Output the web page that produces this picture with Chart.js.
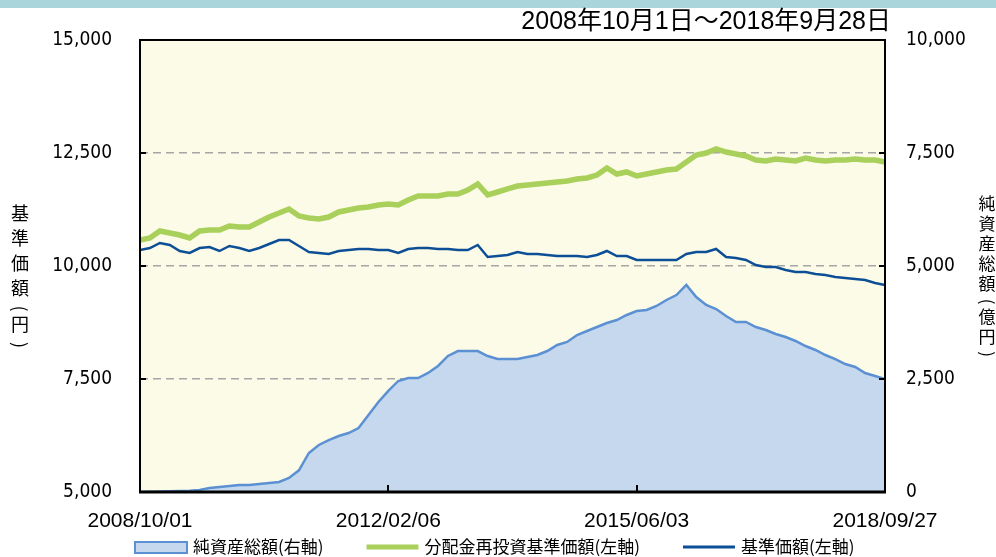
<!DOCTYPE html>
<html><head><meta charset="utf-8">
<script src="https://cdn.jsdelivr.net/npm/chart.js@4.4.0/dist/chart.umd.min.js"></script>
<style>html,body{margin:0;padding:0;background:#fff;overflow:hidden}#wrap{width:996px;height:557px;position:relative}</style>
</head><body><div id="wrap"><canvas id="c" width="996" height="557"></canvas></div>
<script>
// ---- data ----
const periodTitle = '2008年10月1日～2018年9月28日';
const xTickLabels = ['2008/10/01', '2012/02/06', '2015/06/03', '2018/09/27'];
const seriesNames = ['純資産総額(右軸)', '分配金再投資基準価額(左軸)', '基準価額(左軸)'];
const leftAxisTitle = ['基', '準', '価', '額', '(', '円', ')'];
const rightAxisTitle = ['純', '資', '産', '総', '額', '(', '億', '円', ')'];
const leftTicks = [5000, 7500, 10000, 12500, 15000];
const rightTicks = [0, 2500, 5000, 7500, 10000];

// 分配金再投資基準価額 (円, left axis)
const reinvestNav = [
  10575, 10620, 10774, 10730, 10686, 10620, 10774, 10797, 10797, 10885,
  10863, 10863, 10973, 11084, 11173, 11261, 11106, 11062, 11040, 11084,
  11195, 11239, 11283, 11305, 11350, 11372, 11350, 11460, 11549, 11549,
  11549, 11593, 11593, 11681, 11814, 11571, 11637, 11704, 11770, 11792,
  11814, 11836, 11858, 11881, 11925, 11947, 12013, 12168, 12035, 12080,
  11991, 12035, 12080, 12124, 12146, 12301, 12456, 12500, 12589, 12522,
  12478, 12434, 12345, 12323, 12367, 12345, 12323, 12389, 12345, 12323,
  12345, 12345, 12367, 12345, 12345, 12301
];
// 基準価額 (円, left axis)
const nav = [
  10354, 10398, 10509, 10465, 10332, 10288, 10398, 10420, 10332, 10443,
  10398, 10332, 10398, 10487, 10575, 10575, 10443, 10310, 10288, 10266,
  10332, 10354, 10376, 10376, 10354, 10354, 10288, 10376, 10398, 10398,
  10376, 10376, 10354, 10354, 10465, 10199, 10221, 10243, 10310, 10266,
  10266, 10243, 10221, 10221, 10221, 10199, 10243, 10332, 10221, 10221,
  10133, 10133, 10133, 10133, 10133, 10266, 10310, 10310, 10376, 10199,
  10177, 10133, 10022, 9978, 9978, 9912, 9867, 9867, 9823, 9801,
  9757, 9735, 9712, 9690, 9624, 9580
];
// 純資産総額 (億円, right axis)
const netAssets = [
  2, 5, 10, 15, 22, 30, 44, 88, 111, 133,
  155, 155, 177, 199, 221, 310, 480, 863, 1040, 1150,
  1239, 1305, 1416, 1704, 1991, 2235, 2456, 2522, 2522, 2633,
  2788, 3009, 3119, 3119, 3119, 3009, 2942, 2942, 2942, 2987,
  3031, 3119, 3252, 3319, 3473, 3562, 3650, 3739, 3805, 3916,
  4004, 4027, 4115, 4248, 4358, 4580, 4314, 4137, 4049, 3894,
  3761, 3761, 3650, 3584, 3496, 3429, 3341, 3230, 3142, 3031,
  2942, 2832, 2765, 2633, 2566, 2500
];

// ---- styles ----
const C_AREA_FILL = '#c5d8ee', C_AREA_LINE = '#5b90d2';
const C_GREEN = '#a8d05a', C_BLUE = '#0d4f96';
const C_PLOT_BG = '#fcfbe7', C_BAND = '#a9d5db';
const JP = '"Noto Sans CJK JP", sans-serif';
const NUM = '"DejaVu Sans Condensed", "DejaVu Sans", sans-serif';
const NARROW = '"Liberation Sans Narrow", "Liberation Sans", "Noto Sans CJK JP", sans-serif';

const lastIdx = reinvestNav.length - 1;
const xStep = lastIdx / (xTickLabels.length - 1);
const toXY = arr => arr.map((v, i) => ({ x: i, y: v }));
const fmt = v => Number(v).toLocaleString('en-US');
const isParen = ch => ch === '(' || ch === ')';

function drawVerticalTitle(ctx, chars, cx, startY, step, parenStep, fontPx) {
  ctx.font = fontPx + 'px ' + JP;
  ctx.textAlign = 'center'; ctx.textBaseline = 'middle';
  let y = startY;
  chars.forEach(ch => {
    if (isParen(ch)) {
      y -= (step - parenStep) / 2;
      ctx.save();
      ctx.translate(cx, y);
      ctx.rotate(Math.PI / 2);
      ctx.fillText(ch, 0, 0);
      ctx.restore();
      y += parenStep;
      y += (step - parenStep) / 2 - (step - parenStep) / 2;
    } else {
      ctx.fillText(ch, cx, y);
      y += step;
    }
  });
}

const decor = {
  id: 'decor',
  beforeDraw(chart) {
    const { ctx, chartArea: a } = chart;
    ctx.save();
    ctx.fillStyle = '#ffffff';
    ctx.fillRect(0, 0, chart.width, chart.height);
    ctx.fillStyle = C_BAND;
    ctx.fillRect(0, 0, chart.width, 8);
    ctx.fillStyle = C_PLOT_BG;
    ctx.fillRect(a.left, a.top, a.right - a.left, a.bottom - a.top);
    ctx.restore();
  },
  afterDraw(chart) {
    const { ctx, chartArea: a, scales } = chart;
    ctx.save();
    // tick marks (inside)
    ctx.strokeStyle = '#000'; ctx.lineWidth = 2;
    ctx.beginPath();
    leftTicks.forEach(v => { const y = Math.round(scales.y.getPixelForValue(v)); ctx.moveTo(a.left, y); ctx.lineTo(a.left + 6, y); });
    rightTicks.forEach(v => { const y = Math.round(scales.y2.getPixelForValue(v)); ctx.moveTo(a.right, y); ctx.lineTo(a.right - 6, y); });
    xTickLabels.forEach((_, k) => { const x = Math.round(scales.x.getPixelForValue(k * xStep)); ctx.moveTo(x, a.bottom); ctx.lineTo(x, a.bottom - 7); });
    ctx.stroke();
    // frame
    ctx.lineWidth = 2;
    ctx.strokeRect(a.left, a.top, a.right - a.left, a.bottom - a.top);
    ctx.lineWidth = 3;
    ctx.beginPath(); ctx.moveTo(a.left - 1, a.bottom); ctx.lineTo(a.right + 1, a.bottom); ctx.stroke();

    // title
    ctx.fillStyle = '#000';
    ctx.font = '25px ' + NARROW;
    ctx.textAlign = 'right'; ctx.textBaseline = 'middle';
    ctx.fillText(periodTitle, 891, 22);

    // axis titles (vertical, upright characters)
    drawVerticalTitle(ctx, leftAxisTitle, 20, 213, 25, 16, 18);
    drawVerticalTitle(ctx, rightAxisTitle, 987, 204, 20, 15, 17);

    // legend
    ctx.font = '17px ' + JP;
    ctx.textAlign = 'left'; ctx.textBaseline = 'middle';
    const ly = 547;
    let x = 135;
    const boxW = 52;
    ctx.fillStyle = C_AREA_FILL; ctx.fillRect(x, ly - 5, boxW, 11);
    ctx.strokeStyle = C_AREA_LINE; ctx.lineWidth = 2; ctx.strokeRect(x, ly - 5, boxW, 11);
    ctx.fillStyle = '#000'; ctx.fillText(seriesNames[0], x + boxW + 6, ly);
    x += boxW + 6 + ctx.measureText(seriesNames[0]).width + 43;
    ctx.strokeStyle = C_GREEN; ctx.lineWidth = 5;
    ctx.beginPath(); ctx.moveTo(x, ly); ctx.lineTo(x + boxW, ly); ctx.stroke();
    ctx.fillText(seriesNames[1], x + boxW + 6, ly);
    x += boxW + 6 + ctx.measureText(seriesNames[1]).width + 43;
    ctx.strokeStyle = C_BLUE; ctx.lineWidth = 3;
    ctx.beginPath(); ctx.moveTo(x, ly); ctx.lineTo(x + boxW, ly); ctx.stroke();
    ctx.fillText(seriesNames[2], x + boxW + 6, ly);
    ctx.restore();
  }
};

new Chart(document.getElementById('c'), {
  type: 'line',
  data: {
    datasets: [
      { label: seriesNames[0], data: toXY(netAssets), yAxisID: 'y2', fill: 'start',
        backgroundColor: C_AREA_FILL, borderColor: C_AREA_LINE, borderWidth: 2.5, pointRadius: 0, tension: 0, order: 3 },
      { label: seriesNames[1], data: toXY(reinvestNav), yAxisID: 'y', fill: false,
        borderColor: C_GREEN, borderWidth: 5.5, pointRadius: 0, tension: 0, order: 2 },
      { label: seriesNames[2], data: toXY(nav), yAxisID: 'y', fill: false,
        borderColor: C_BLUE, borderWidth: 2.5, pointRadius: 0, tension: 0, order: 1 }
    ]
  },
  options: {
    responsive: false, animation: false, devicePixelRatio: 1,
    layout: { padding: { top: 40, left: 0, right: 0, bottom: 0 } },
    plugins: { legend: { display: false }, tooltip: { enabled: false }, title: { display: false } },
    scales: {
      x: {
        type: 'linear', position: 'bottom', min: 0, max: lastIdx,
        afterFit: s => { s.height = 65; },
        grid: { display: false, drawTicks: false },
        border: { display: false },
        ticks: { stepSize: xStep, autoSkip: false, maxRotation: 0, padding: 17, color: '#000',
          font: { family: NARROW, size: 21 },
          callback: v => xTickLabels[Math.round(v / xStep)] }
      },
      y: {
        position: 'left', min: 5000, max: 15000,
        afterFit: s => { s.width = 140; },
        grid: { display: true, drawTicks: false, color: '#a6a6a6', lineWidth: 1.5 },
        border: { display: false, dash: [8, 5] },
        ticks: { stepSize: 2500, padding: 28, color: '#000', font: { family: NUM, size: 19 }, callback: fmt }
      },
      y2: {
        position: 'right', min: 0, max: 10000,
        afterFit: s => { s.width = 111; },
        grid: { display: false, drawTicks: false },
        border: { display: false },
        ticks: { stepSize: 2500, padding: 21, color: '#000', font: { family: NUM, size: 19 }, callback: fmt }
      }
    }
  },
  plugins: [decor]
});
</script></body></html>
